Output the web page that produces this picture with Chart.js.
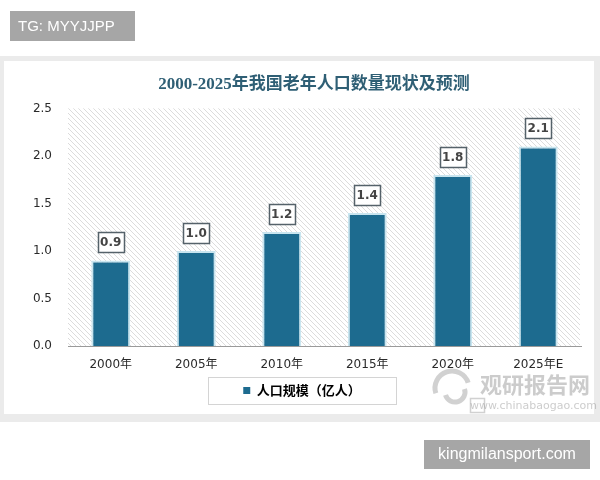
<!DOCTYPE html>
<html>
<head>
<meta charset="utf-8">
<script src="https://cdn.jsdelivr.net/npm/chart.js@4.4.0/dist/chart.umd.min.js"></script>
<style>
  html, body { margin: 0; padding: 0; background: #fff; }
  #wrap { position: relative; width: 600px; height: 480px; }
  canvas { display: block; }
</style>
</head>
<body>
<div id="wrap"><canvas id="c" width="600" height="480"></canvas></div>
<script>
// ---- data ----
const categories = ['2000年', '2005年', '2010年', '2015年', '2020年', '2025年E'];
const populationValues = [0.9, 1.0, 1.2, 1.4, 1.8, 2.1];
const seriesName = '人口规模（亿人）';
const chartTitle = '2000-2025年我国老年人口数量现状及预测';
const yTickMin = 0;
const yTickMax = 2.5;
const yTickStep = 0.5;
const topTag = 'TG: MYYJJPP';
const bottomTag = 'kingmilansport.com';
const watermarkMain = '观研报告网';
const watermarkSub = 'www.chinabaogao.com';

// ---- styles ----
const barColor = '#1d6b8f';
const barEdge = '#c9e5ef';
const textDark = '#2a2a2a';
const titleColor = '#2f5f75';

// hatch pattern
function makeHatch() {
  const s = 5;
  const pc = document.createElement('canvas');
  pc.width = s; pc.height = s;
  const p = pc.getContext('2d');
  p.fillStyle = '#ffffff';
  p.fillRect(0, 0, s, s);
  p.strokeStyle = '#dcdcdc';
  p.lineWidth = 1;
  p.beginPath();
  p.moveTo(-1, -1); p.lineTo(s + 1, s + 1);
  p.moveTo(-1, s - 1); p.lineTo(1, s + 1);
  p.moveTo(s - 1, -1); p.lineTo(s + 1, 1);
  p.stroke();
  return p.createPattern(pc, 'repeat');
}

const decorPlugin = {
  id: 'decor',
  beforeDraw(chart) {
    const ctx = chart.ctx;
    ctx.save();
    ctx.fillStyle = '#ffffff';
    ctx.fillRect(0, 0, chart.width, chart.height);
    // panel frame
    ctx.fillStyle = '#ebebeb';
    ctx.fillRect(0, 56, 600, 366);
    ctx.fillStyle = '#ffffff';
    ctx.fillRect(4, 61, 590, 353);
    // top tag
    ctx.fillStyle = '#a6a6a6';
    ctx.fillRect(10, 11, 125, 30);
    ctx.fillStyle = '#ffffff';
    ctx.font = '15px "Liberation Sans", Arial, sans-serif';
    ctx.textBaseline = 'middle';
    ctx.textAlign = 'left';
    ctx.fillText(topTag, 18, 26.5);
    // bottom tag
    ctx.fillStyle = '#a6a6a6';
    ctx.fillRect(424, 440, 166, 29);
    ctx.fillStyle = '#ffffff';
    ctx.font = '16px "Liberation Sans", Arial, sans-serif';
    ctx.textAlign = 'center';
    ctx.fillText(bottomTag, 507, 455);
    // hatched plot background
    const a = chart.chartArea;
    ctx.fillStyle = makeHatch();
    ctx.fillRect(a.left, a.top, a.right - a.left - 1, a.bottom - a.top);
    ctx.restore();
  },
  afterDraw(chart) {
    const ctx = chart.ctx;
    ctx.save();
    // legend frame
    const lg = chart.legend;
    const cx = (lg.left + lg.right) / 2;
    ctx.strokeStyle = '#d4d4d4';
    ctx.lineWidth = 1;
    ctx.strokeRect(Math.round(cx - 94) + 0.5, 377.5, 188, 27);
    // watermark
    ctx.globalAlpha = 0.45;
    ctx.strokeStyle = '#9a9a9a';
    ctx.lineWidth = 5;
    ctx.beginPath();
    ctx.arc(452, 388, 17, Math.PI * 0.9, Math.PI * 1.9);
    ctx.stroke();
    ctx.beginPath();
    ctx.arc(455, 392, 10, Math.PI * 1.9, Math.PI * 0.9);
    ctx.stroke();
    ctx.fillStyle = '#8e8e8e';
    ctx.font = 'bold 22px "Noto Sans CJK SC", sans-serif';
    ctx.textAlign = 'left';
    ctx.textBaseline = 'middle';
    ctx.fillText(watermarkMain, 480, 385);
    ctx.lineWidth = 1.5;
    ctx.strokeRect(470.5, 398.5, 14, 14);
    ctx.font = '11px "DejaVu Sans", sans-serif';
    ctx.fillText(watermarkSub, 470, 406);
    ctx.restore();
  }
};

const labelPlugin = {
  id: 'barLabels',
  afterDatasetsDraw(chart) {
    const ctx = chart.ctx;
    const meta = chart.getDatasetMeta(0);
    ctx.save();
    ctx.font = 'bold 12px "DejaVu Sans", sans-serif';
    ctx.textAlign = 'center';
    ctx.textBaseline = 'middle';
    meta.data.forEach((bar, i) => {
      const txt = populationValues[i].toFixed(1);
      const w = 26, h = 20;
      const x = Math.round(bar.x - w / 2) + 0.5;
      const y = Math.round(bar.y - 8 - h) + 0.5;
      ctx.fillStyle = '#ffffff';
      ctx.fillRect(x, y, w, h);
      ctx.strokeStyle = '#55626a';
      ctx.lineWidth = 1.5;
      ctx.strokeRect(x, y, w, h);
      ctx.fillStyle = '#444444';
      ctx.fillText(txt, bar.x, y + h / 2 + 0.5);
    });
    ctx.restore();
  },
  afterLayout(chart) {
    // shift title to its reference position
    const t = chart.titleBlock;
    if (t) { t.left += 12; t.right += 12; }
  }
};

new Chart(document.getElementById('c'), {
  type: 'bar',
  data: {
    labels: categories,
    datasets: [{
      label: seriesName,
      data: populationValues,
      backgroundColor: barColor,
      borderColor: barEdge,
      borderWidth: 2,
      borderSkipped: 'bottom',
      categoryPercentage: 1.0,
      barPercentage: 0.455
    }]
  },
  options: {
    responsive: false,
    animation: false,
    devicePixelRatio: 1,
    layout: { padding: { top: 0, left: 23, right: 19, bottom: 73 } },
    plugins: {
      title: {
        display: true,
        text: chartTitle,
        color: titleColor,
        font: { family: '"Liberation Serif", "Noto Sans CJK SC", serif', size: 17, weight: 'bold', lineHeight: 1.2 },
        padding: { top: 74, bottom: 14 }
      },
      legend: {
        display: true,
        position: 'bottom',
        labels: {
          boxWidth: 7,
          boxHeight: 7,
          padding: 10,
          color: textDark,
          font: { family: '"Noto Sans CJK SC", sans-serif', size: 13, weight: 'bold' },
          generateLabels: () => [{
            text: seriesName,
            fillStyle: barColor,
            strokeStyle: barColor,
            lineWidth: 0,
            hidden: false,
            datasetIndex: 0
          }]
        }
      },
      tooltip: { enabled: false }
    },
    scales: {
      x: {
        grid: { display: false, drawTicks: false },
        border: { display: true, color: '#9a9a9a', width: 1 },
        ticks: {
          color: textDark,
          padding: 12,
          font: { family: '"DejaVu Sans", "Noto Sans CJK SC", sans-serif', size: 12 }
        },
        afterFit(s) { s.height = 28; }
      },
      y: {
        min: yTickMin,
        max: yTickMax,
        grid: { display: false, drawTicks: false },
        border: { display: false },
        ticks: {
          stepSize: yTickStep,
          color: textDark,
          padding: 16,
          font: { family: '"DejaVu Sans", sans-serif', size: 12 },
          callback: v => Number(v).toFixed(1)
        },
        afterFit(s) { s.width = 45; }
      }
    }
  },
  plugins: [decorPlugin, labelPlugin]
});
</script>
</body>
</html>
